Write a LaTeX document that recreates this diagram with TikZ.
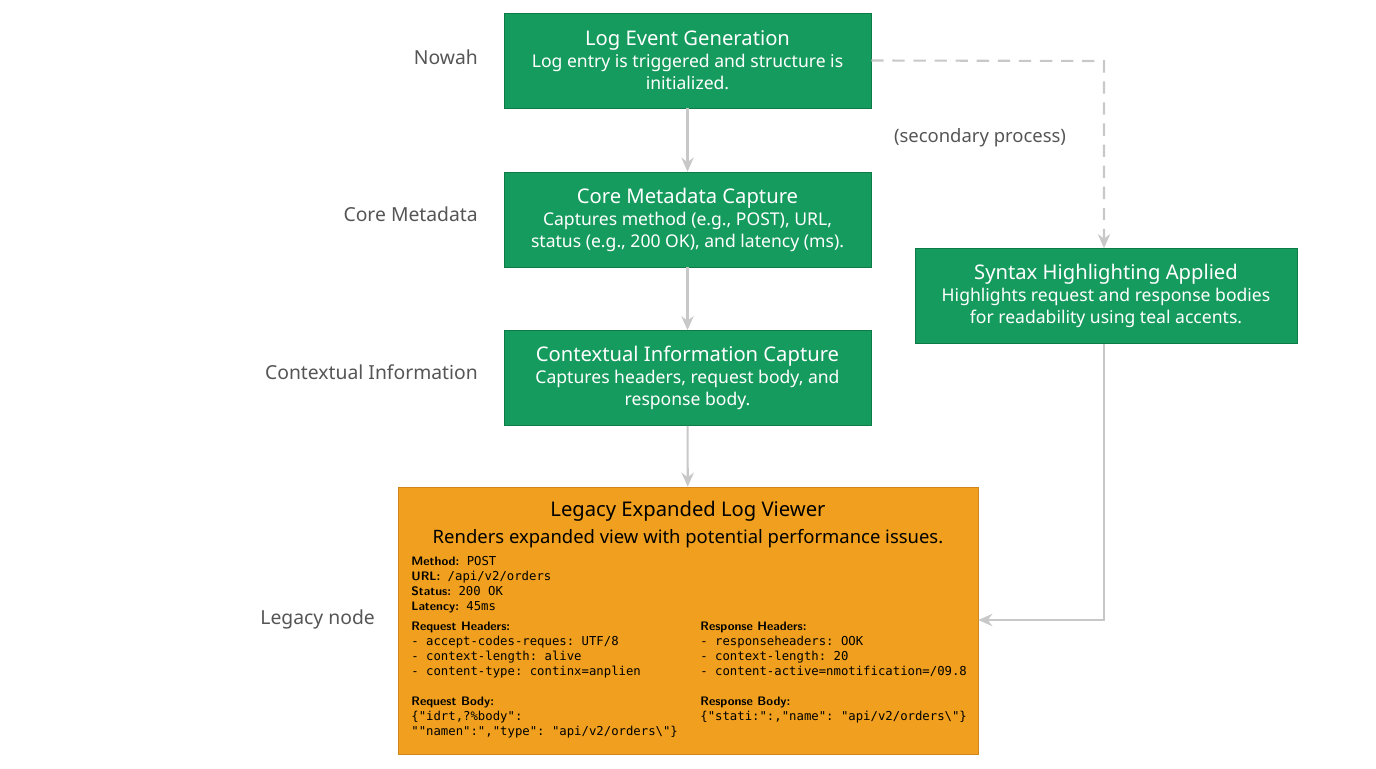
\documentclass[tikz,border=0pt]{standalone}
\usepackage{fontspec}
\setmainfont{Noto Sans}
\setmonofont{DejaVu Sans Mono}
\usetikzlibrary{positioning,arrows.meta}
\definecolor{stepgreen}{HTML}{169B5E}
\definecolor{stepedge}{HTML}{0E7A48}
\definecolor{legacyfill}{HTML}{F0A01E}
\definecolor{legacyedge}{HTML}{D0861A}
\definecolor{flowgray}{HTML}{C8C8C8}
\definecolor{labelgray}{HTML}{555555}
\tikzset{
  stepbox/.style={draw=stepedge, fill=stepgreen, text=white, minimum width=7.34cm, minimum height=1.9cm, align=center, font=\fontsize{10}{12.5}\selectfont},
  side/.style={text=labelgray, anchor=east, font=\fontsize{11}{13}\selectfont},
  flow/.style={draw=flowgray, line width=1.2pt, -{Stealth[length=8pt,width=7pt]}},
  mono/.style={anchor=north west, align=left, inner sep=0pt, font=\fontsize{7}{8.5}\selectfont\ttfamily},
}
\newcommand{\hd}[1]{{\sffamily\bfseries #1}}
\begin{document}
\begin{tikzpicture}[x=0.02cm,y=-0.02cm]
  \useasboundingbox (0,0) rectangle (1376,768);
  \node[stepbox] (gen) at (687.5,60.5) {{\bfseries\fontsize{11.5}{14}\selectfont Log Event Generation}\\Log entry is triggered and structure is\\initialized.};
  \node[stepbox] (core) at (687.5,219.5) {{\bfseries\fontsize{11.5}{14}\selectfont Core Metadata Capture}\\Captures method (e.g., POST), URL,\\status (e.g., 200 OK), and latency (ms).};
  \node[stepbox] (ctx) at (687.5,378) {{\bfseries\fontsize{11.5}{14}\selectfont Contextual Information Capture}\\Captures headers, request body, and\\response body.};
  \node[stepbox, minimum width=7.64cm] (syntax) at (1106,296) {{\bfseries\fontsize{11.5}{14}\selectfont Syntax Highlighting Applied}\\Highlights request and response bodies\\for readability using teal accents.};
  \node[draw=legacyedge, fill=legacyfill, minimum width=11.6cm, minimum height=5.34cm] (legacy) at (688,620.5) {};
  \node[font=\bfseries\fontsize{11.5}{14}\selectfont] (legtitle) at (688,511) {Legacy Expanded Log Viewer};
  \node[font=\fontsize{10.5}{12}\selectfont] (legsub) at (688,539) {Renders expanded view with potential performance issues.};
  \node[mono] (meta) at (411,556) {\hd{Method:} POST\\\hd{URL:} /api/v2/orders\\\hd{Status:} 200 OK\\\hd{Latency:} 45ms};
  \node[mono] (reqh) at (411,622) {\hd{Request Headers:}\\- accept-codes-reques: UTF/8\\- context-length: alive\\- content-type: continx=anplien};
  \node[mono] (resh) at (700,622) {\hd{Response Headers:}\\- responseheaders: OOK\\- context-length: 20\\- content-active=nmotification=/09.8};
  \node[mono] (reqb) at (411,697) {\hd{Request Body:}\\\{"idrt,?\%body":\\""namen":","type": "api/v2/orders\textbackslash"\}};
  \node[mono] (resb) at (700,697) {\hd{Response Body:}\\\{"stati:":,"name": "api/v2/orders\textbackslash"\}};
  % side labels
  \node[side] (l1) at (484,57) {Nowah};
  \node[side] (l2) at (484,214) {Core Metadata};
  \node[side] (l3) at (484,372) {Contextual Information};
  \node[side] (l4) at (381,619) {Legacy node};
  \node[text=labelgray, font=\fontsize{10.5}{13}\selectfont] (sec) at (980,138) {(secondary process)};
  % connectors
  \coordinate (bendtop) at (1104,61);
  \coordinate (bendlow) at (1104,620);
  \draw[flow] (gen) -- (core);
  \draw[flow] (core) -- (ctx);
  \draw[flow] (ctx) -- (legacy);
  \draw[flow, dashed, dash pattern=on 7pt off 5pt] (gen.east) -- (bendtop) -- (syntax.north -| bendtop);
  \draw[flow] (syntax.south -| bendlow) -- (bendlow) -- (legacy.east |- bendlow);
\end{tikzpicture}
\end{document}
